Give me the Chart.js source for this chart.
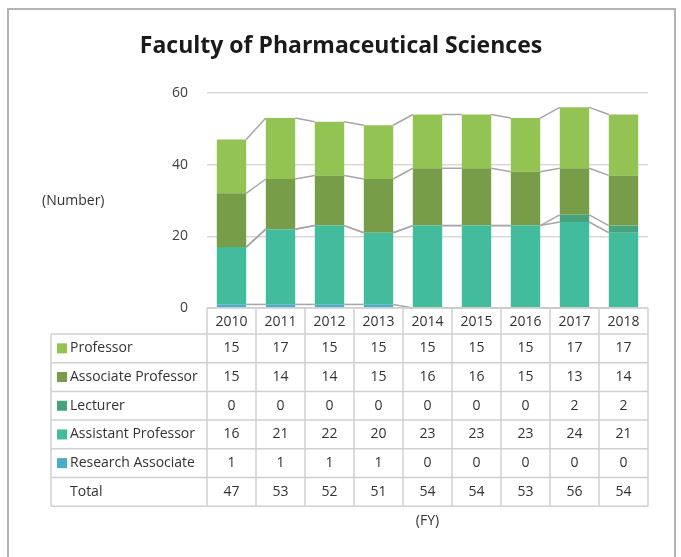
<!DOCTYPE html>
<html>
<head>
<meta charset="utf-8">
<script src="https://cdn.jsdelivr.net/npm/chart.js@4.4.1/dist/chart.umd.min.js"></script>
<style>
  html, body { margin: 0; padding: 0; background: #fff; }
  #wrap { width: 681px; height: 557px; position: relative; }
</style>
</head>
<body>
<div id="wrap"><canvas id="grafico"></canvas></div>
<script>
// Dados do gráfico
const anos = ['2010', '2011', '2012', '2013', '2014', '2015', '2016', '2017', '2018'];
const professor = [15, 17, 15, 15, 15, 15, 15, 17, 17];
const associado = [15, 14, 14, 15, 16, 16, 15, 13, 14];
const lecturer = [0, 0, 0, 0, 0, 0, 0, 2, 2];
const assistente = [16, 21, 22, 20, 23, 23, 23, 24, 21];
const pesquisador = [1, 1, 1, 1, 0, 0, 0, 0, 0];
const totais = [47, 53, 52, 51, 54, 54, 53, 56, 54];
const yTicks = [0, 20, 40, 60];

const fonte = '"Open Sans", "Noto Sans", sans-serif';
const corTexto = '#333333';
const corBorda = '#d0d0d0';

// Ordem de empilhamento: de baixo para cima
const series = [
    { label: 'Research Associate', data: pesquisador, cor: '#4bacc6' },
    { label: 'Assistant Professor', data: assistente, cor: '#43bc9e' },
    { label: 'Lecturer', data: lecturer, cor: '#46a47d' },
    { label: 'Associate Professor', data: associado, cor: '#789d48' },
    { label: 'Professor', data: professor, cor: '#92c353' }
];

// Moldura, título, rótulo "(Number)" e "(FY)"
const extrasPlugin = {
    id: 'extras',
    beforeDraw(chart) {
        const ctx = chart.ctx;
        ctx.save();
        ctx.strokeStyle = '#b4b4b4';
        ctx.lineWidth = 2;
        ctx.beginPath();
        ctx.moveTo(8, 560);
        ctx.lineTo(8, 9);
        ctx.lineTo(675, 9);
        ctx.lineTo(675, 560);
        ctx.stroke();
        ctx.restore();
    },
    afterDraw(chart) {
        const ctx = chart.ctx;
        const area = chart.chartArea;
        ctx.save();
        ctx.fillStyle = '#1a1a1a';
        ctx.font = 'bold 23px ' + fonte;
        ctx.textAlign = 'center';
        ctx.textBaseline = 'middle';
        ctx.fillText('Faculty of Pharmaceutical Sciences', 341, 46);

        ctx.fillStyle = corTexto;
        ctx.font = '14px ' + fonte;
        ctx.textAlign = 'left';
        ctx.fillText('(Number)', 42, 201);
        ctx.textAlign = 'center';
        ctx.fillText('(FY)', (area.left + area.right) / 2, 521);
        ctx.restore();
    }
};

// Linhas de série entre as barras (estilo Excel)
const linhasSeriePlugin = {
    id: 'linhasSerie',
    afterDatasetsDraw(chart) {
        const ctx = chart.ctx;
        ctx.save();
        ctx.strokeStyle = '#a6a6a6';
        ctx.lineWidth = 1.5;
        chart.data.datasets.forEach((ds, di) => {
            const meta = chart.getDatasetMeta(di);
            for (let i = 0; i < meta.data.length - 1; i++) {
                const a = meta.data[i];
                const b = meta.data[i + 1];
                ctx.beginPath();
                ctx.moveTo(a.x + a.width / 2, a.y);
                ctx.lineTo(b.x - b.width / 2, b.y);
                ctx.stroke();
            }
        });
        ctx.restore();
    }
};

// Tabela de dados abaixo do gráfico
const tabelaPlugin = {
    id: 'tabela',
    afterDraw(chart) {
        const ctx = chart.ctx;
        const area = chart.chartArea;
        const x = chart.scales.x;
        const colW = (area.right - area.left) / anos.length;
        const esquerda = 51;
        const topo = area.bottom;
        const alturaCab = 26;
        const alturaLinha = 28.7;
        const linhas = [
            { label: 'Professor', data: professor, cor: '#92c353' },
            { label: 'Associate Professor', data: associado, cor: '#789d48' },
            { label: 'Lecturer', data: lecturer, cor: '#46a47d' },
            { label: 'Assistant Professor', data: assistente, cor: '#43bc9e' },
            { label: 'Research Associate', data: pesquisador, cor: '#4bacc6' },
            { label: 'Total', data: totais, cor: null }
        ];
        const fundo = topo + alturaCab + alturaLinha * linhas.length;

        ctx.save();
        ctx.strokeStyle = corBorda;
        ctx.lineWidth = 1.5;
        // linhas verticais das colunas de anos
        for (let i = 0; i <= anos.length; i++) {
            const px = area.left + colW * i;
            ctx.beginPath();
            ctx.moveTo(px, topo);
            ctx.lineTo(px, fundo);
            ctx.stroke();
        }
        // borda esquerda
        ctx.beginPath();
        ctx.moveTo(esquerda, topo + alturaCab);
        ctx.lineTo(esquerda, fundo);
        ctx.stroke();
        // topo do cabeçalho
        ctx.beginPath();
        ctx.moveTo(area.left, topo);
        ctx.lineTo(area.right, topo);
        ctx.stroke();
        // linhas horizontais
        for (let r = 0; r <= linhas.length; r++) {
            const py = topo + alturaCab + alturaLinha * r;
            ctx.beginPath();
            ctx.moveTo(esquerda, py);
            ctx.lineTo(area.right, py);
            ctx.stroke();
        }

        ctx.fillStyle = corTexto;
        ctx.font = '14px ' + fonte;
        ctx.textBaseline = 'middle';
        ctx.textAlign = 'center';
        anos.forEach((ano, i) => {
            ctx.fillText(ano, x.getPixelForValue(i), topo + alturaCab / 2 + 1);
        });
        linhas.forEach((linha, r) => {
            const cy = topo + alturaCab + alturaLinha * r + alturaLinha / 2;
            if (linha.cor) {
                ctx.fillStyle = linha.cor;
                ctx.fillRect(57, cy - 5, 10, 10);
            }
            ctx.fillStyle = corTexto;
            ctx.textAlign = 'left';
            ctx.fillText(linha.label, 70, cy);
            ctx.textAlign = 'center';
            linha.data.forEach((v, i) => {
                ctx.fillText(String(v), x.getPixelForValue(i), cy);
            });
        });
        ctx.restore();
    }
};

function criarGrafico() {
    const ctx = document.getElementById('grafico').getContext('2d');
    new Chart(ctx, {
        type: 'bar',
        data: {
            labels: anos,
            datasets: series.map(s => ({
                label: s.label,
                data: s.data,
                backgroundColor: s.cor,
                borderWidth: 0,
                barPercentage: 0.6,
                categoryPercentage: 1.0
            }))
        },
        options: {
            responsive: true,
            maintainAspectRatio: false,
            animation: false,
            layout: {
                padding: { top: 93, right: 33, bottom: 249, left: 0 }
            },
            plugins: {
                legend: { display: false },
                tooltip: { enabled: false },
                title: { display: false }
            },
            scales: {
                x: {
                    stacked: true,
                    display: false
                },
                y: {
                    stacked: true,
                    min: 0,
                    max: 60,
                    afterFit(scale) { scale.width = 207; },
                    afterBuildTicks(scale) {
                        scale.ticks = yTicks.map(v => ({ value: v }));
                    },
                    border: { display: false },
                    grid: { color: '#d9d9d9', lineWidth: 1.5, drawTicks: false },
                    ticks: {
                        color: '#404040',
                        padding: 19,
                        font: { family: fonte, size: 14 }
                    }
                }
            }
        },
        plugins: [extrasPlugin, linhasSeriePlugin, tabelaPlugin]
    });
}

document.addEventListener('DOMContentLoaded', criarGrafico);
</script>
</body>
</html>
